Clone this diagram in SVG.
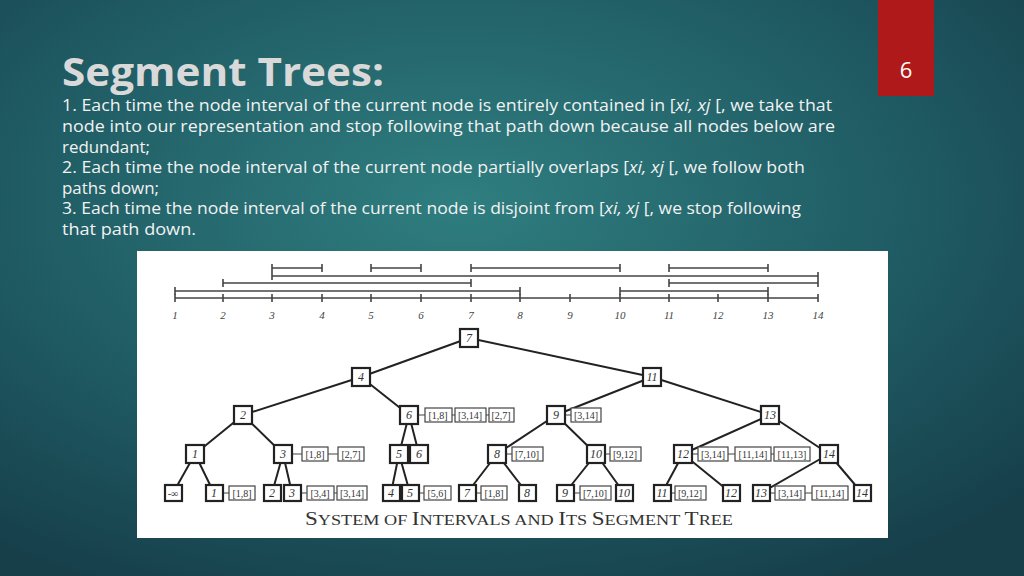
<svg xmlns="http://www.w3.org/2000/svg" width="1024" height="576" viewBox="0 0 1024 576">
<defs>
<radialGradient id="bg" cx="0.45" cy="0.35" r="0.75">
<stop offset="0" stop-color="#2f7e80"/><stop offset="0.6" stop-color="#1f5a63"/><stop offset="1" stop-color="#163f4a"/>
</radialGradient>
<style>
.t{font-family:"Open Sans","Liberation Sans",sans-serif;font-size:15.5px;fill:#f2f2f2}
.n{fill:#fff;stroke:#222;stroke-width:2.2}
.nl{font-family:"Liberation Serif",serif;font-style:italic;font-size:12px;fill:#333;text-anchor:middle}
.lb{fill:#fff;stroke:#444;stroke-width:1.2}
.ll{font-family:"Liberation Serif",serif;font-size:10px;fill:#333;text-anchor:middle}
.e{stroke:#222;stroke-width:2;fill:none}
.iv{stroke:#444;stroke-width:1.6}
.ax{font-family:"Liberation Serif",serif;font-style:italic;font-size:11px;fill:#444;text-anchor:middle}
</style>
</defs>
<rect width="1024" height="576" fill="url(#bg)"/>
<rect x="878" y="0" width="56" height="96" fill="#b0191a"/>
<text x="906" y="78" font-family="Open Sans,Liberation Sans,sans-serif" font-size="22" fill="#fff" text-anchor="middle">6</text>
<text x="62" y="86" font-family="Open Sans,Liberation Sans,sans-serif" font-size="40" font-weight="bold" fill="#d9d9d9" textLength="322" lengthAdjust="spacingAndGlyphs">Segment Trees:</text>
<text class="t" x="62" y="111" textLength="770" lengthAdjust="spacingAndGlyphs">1. Each time the node interval of the current node is entirely contained in [<tspan font-style="italic">xi, xj</tspan> [, we take that</text>
<text class="t" x="62" y="132" textLength="773" lengthAdjust="spacingAndGlyphs">node into our representation and stop following that path down because all nodes below are</text>
<text class="t" x="62" y="153" textLength="88" lengthAdjust="spacingAndGlyphs">redundant;</text>
<text class="t" x="62" y="173" textLength="743" lengthAdjust="spacingAndGlyphs">2. Each time the node interval of the current node partially overlaps [<tspan font-style="italic">xi, xj</tspan> [, we follow both</text>
<text class="t" x="62" y="194" textLength="97" lengthAdjust="spacingAndGlyphs">paths down;</text>
<text class="t" x="62" y="214" textLength="739" lengthAdjust="spacingAndGlyphs">3. Each time the node interval of the current node is disjoint from [<tspan font-style="italic">xi, xj</tspan> [, we stop following</text>
<text class="t" x="62" y="235" textLength="134" lengthAdjust="spacingAndGlyphs">that path down.</text>
<rect x="137" y="251" width="751" height="287" fill="#fff"/>
<g id="intervals">
<path class="iv" d="M175 298H818 M175 294V302 M223 294V302 M272 294V302 M322 294V302 M371 294V302 M421 294V302 M471 294V302 M520 294V302 M570 294V302 M620 294V302 M669 294V302 M718 294V302 M768 294V302 M818 294V302"/>
<path class="iv" d="M272 268H322M272 264V272M322 264V272 M371 268H421M371 264V272M421 264V272 M471 268H620M471 264V272M620 264V272 M669 268H768M669 264V272M768 264V272 M272 276H818M272 272V280M818 272V280 M223 283H471M223 279V287M471 279V287 M669 283H818M669 279V287M818 279V287 M175 291H520M175 287V295M520 287V295 M620 291H768M620 287V295M768 287V295"/>
<text class="ax" y="319"><tspan x="175">1</tspan><tspan x="223">2</tspan><tspan x="272">3</tspan><tspan x="322">4</tspan><tspan x="371">5</tspan><tspan x="421">6</tspan><tspan x="471">7</tspan><tspan x="520">8</tspan><tspan x="570">9</tspan><tspan x="620">10</tspan><tspan x="669">11</tspan><tspan x="718">12</tspan><tspan x="768">13</tspan><tspan x="818">14</tspan></text>
</g>
<g id="connectors">
<path class="e" d="M469 338L361 377M469 338L652 377M361 377L243 415M361 377L409 415M652 377L556 415M652 377L770 415M243 415L195 454M243 415L283 454M409 415L399 454M409 415L419 454M556 415L497 454M556 415L596 454M770 415L683 454M770 415L829 454M195 454L173 493M195 454L214 493M283 454L272 493M283 454L292 493M399 454L391 493M399 454L410 493M497 454L467 493M497 454L527 493M596 454L565 493M596 454L624 493M683 454L662 493M683 454L731 493M829 454L761 493M829 454L862 493"/>
<path stroke="#444" stroke-width="1.2" d="M418 415H501M292 454H351M506 454H527M605 454H625M692 454H792M223 493H242M301 493H352M419 493H437M476 493H494M574 493H595M671 493H690M770 493H830M565 415H586"/>
</g>
<g id="nodes">
<g id="n7"><rect class="n" x="460" y="329" width="18" height="18"/><text class="nl" x="469" y="342">7</text></g>
<g id="n4"><rect class="n" x="352" y="368" width="18" height="18"/><text class="nl" x="361" y="381">4</text></g>
<g id="n11"><rect class="n" x="643" y="368" width="18" height="18"/><text class="nl" x="652" y="381">11</text></g>
<g id="n2"><rect class="n" x="234" y="406" width="18" height="18"/><text class="nl" x="243" y="419">2</text></g>
<g id="n6"><rect class="n" x="400" y="406" width="18" height="18"/><text class="nl" x="409" y="419">6</text></g>
<g id="n9"><rect class="n" x="547" y="406" width="18" height="18"/><text class="nl" x="556" y="419">9</text></g>
<g id="n13"><rect class="n" x="761" y="406" width="18" height="18"/><text class="nl" x="770" y="419">13</text></g>
<g id="n1"><rect class="n" x="186" y="445" width="18" height="18"/><text class="nl" x="195" y="458">1</text></g>
<g id="n3"><rect class="n" x="274" y="445" width="18" height="18"/><text class="nl" x="283" y="458">3</text></g>
<g id="n5"><rect class="n" x="390" y="445" width="18" height="18"/><text class="nl" x="399" y="458">5</text></g>
<g id="n6b"><rect class="n" x="410" y="445" width="18" height="18"/><text class="nl" x="419" y="458">6</text></g>
<g id="n8"><rect class="n" x="488" y="445" width="18" height="18"/><text class="nl" x="497" y="458">8</text></g>
<g id="n10"><rect class="n" x="587" y="445" width="18" height="18"/><text class="nl" x="596" y="458">10</text></g>
<g id="n12"><rect class="n" x="674" y="445" width="18" height="18"/><text class="nl" x="683" y="458">12</text></g>
<g id="n14"><rect class="n" x="820" y="445" width="18" height="18"/><text class="nl" x="829" y="458">14</text></g>
<g id="l_inf"><rect class="n" x="165" y="485" width="17" height="16"/><text class="ll" x="173" y="497">-∞</text></g>
<g id="l1"><rect class="n" x="206" y="485" width="17" height="16"/><text class="nl" x="214" y="497">1</text></g>
<g id="l2"><rect class="n" x="264" y="485" width="17" height="16"/><text class="nl" x="272" y="497">2</text></g>
<g id="l3"><rect class="n" x="284" y="485" width="17" height="16"/><text class="nl" x="292" y="497">3</text></g>
<g id="l4"><rect class="n" x="383" y="485" width="17" height="16"/><text class="nl" x="391" y="497">4</text></g>
<g id="l5"><rect class="n" x="402" y="485" width="17" height="16"/><text class="nl" x="410" y="497">5</text></g>
<g id="l7"><rect class="n" x="459" y="485" width="17" height="16"/><text class="nl" x="467" y="497">7</text></g>
<g id="l8"><rect class="n" x="519" y="485" width="17" height="16"/><text class="nl" x="527" y="497">8</text></g>
<g id="l9"><rect class="n" x="557" y="485" width="17" height="16"/><text class="nl" x="565" y="497">9</text></g>
<g id="l10"><rect class="n" x="616" y="485" width="17" height="16"/><text class="nl" x="624" y="497">10</text></g>
<g id="l11"><rect class="n" x="654" y="485" width="17" height="16"/><text class="nl" x="662" y="497">11</text></g>
<g id="l12"><rect class="n" x="723" y="485" width="17" height="16"/><text class="nl" x="731" y="497">12</text></g>
<g id="l13"><rect class="n" x="753" y="485" width="17" height="16"/><text class="nl" x="761" y="497">13</text></g>
<g id="l14"><rect class="n" x="854" y="485" width="17" height="16"/><text class="nl" x="862" y="497">14</text></g>
</g>
<g id="labels">
<g><rect class="lb" x="425" y="408" width="27" height="14"/><text class="ll" x="438" y="419">[1,8]</text></g>
<g><rect class="lb" x="455" y="408" width="31" height="14"/><text class="ll" x="470" y="419">[3,14]</text></g>
<g><rect class="lb" x="489" y="408" width="25" height="14"/><text class="ll" x="501" y="419">[2,7]</text></g>
<g><rect class="lb" x="571" y="408" width="30" height="14"/><text class="ll" x="586" y="419">[3,14]</text></g>
<g><rect class="lb" x="302" y="447" width="26" height="14"/><text class="ll" x="315" y="458">[1,8]</text></g>
<g><rect class="lb" x="338" y="447" width="26" height="14"/><text class="ll" x="351" y="458">[2,7]</text></g>
<g><rect class="lb" x="512" y="447" width="31" height="14"/><text class="ll" x="527" y="458">[7,10]</text></g>
<g><rect class="lb" x="610" y="447" width="31" height="14"/><text class="ll" x="625" y="458">[9,12]</text></g>
<g><rect class="lb" x="698" y="447" width="30" height="14"/><text class="ll" x="713" y="458">[3,14]</text></g>
<g><rect class="lb" x="735" y="447" width="36" height="14"/><text class="ll" x="753" y="458">[11,14]</text></g>
<g><rect class="lb" x="774" y="447" width="36" height="14"/><text class="ll" x="792" y="458">[11,13]</text></g>
<g><rect class="lb" x="229" y="486" width="26" height="14"/><text class="ll" x="242" y="497">[1,8]</text></g>
<g><rect class="lb" x="307" y="486" width="27" height="14"/><text class="ll" x="320" y="497">[3,4]</text></g>
<g><rect class="lb" x="337" y="486" width="30" height="14"/><text class="ll" x="352" y="497">[3,14]</text></g>
<g><rect class="lb" x="424" y="486" width="27" height="14"/><text class="ll" x="437" y="497">[5,6]</text></g>
<g><rect class="lb" x="481" y="486" width="26" height="14"/><text class="ll" x="494" y="497">[1,8]</text></g>
<g><rect class="lb" x="580" y="486" width="31" height="14"/><text class="ll" x="595" y="497">[7,10]</text></g>
<g><rect class="lb" x="675" y="486" width="31" height="14"/><text class="ll" x="690" y="497">[9,12]</text></g>
<g><rect class="lb" x="775" y="486" width="30" height="14"/><text class="ll" x="790" y="497">[3,14]</text></g>
<g><rect class="lb" x="812" y="486" width="36" height="14"/><text class="ll" x="830" y="497">[11,14]</text></g>
</g>
<text x="519" y="525" font-family="Liberation Serif,serif" font-size="19" fill="#333" text-anchor="middle" textLength="428" lengthAdjust="spacingAndGlyphs">S<tspan font-size="15">YSTEM OF </tspan>I<tspan font-size="15">NTERVALS AND </tspan>I<tspan font-size="15">TS </tspan>S<tspan font-size="15">EGMENT </tspan>T<tspan font-size="15">REE</tspan></text>
</svg>
